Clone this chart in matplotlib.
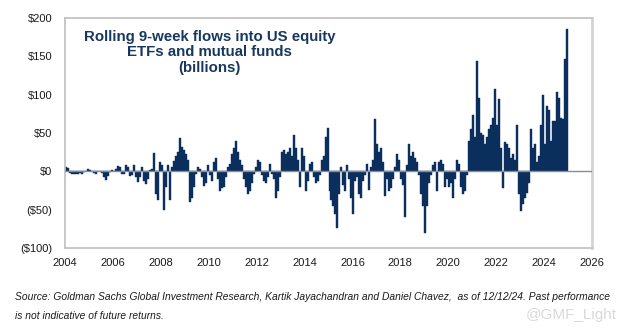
import numpy as np
import matplotlib
matplotlib.use("Agg")
import matplotlib.pyplot as plt
from matplotlib.ticker import FuncFormatter

# Rolling 9-week flows ($bn) (Jan..Dec)
flows_2004 = [5, 4, -2, -3, -3, -4, -3, -2, -3, -1, 1, 3]
flows_2005 = [2, 1, -2, -3, 1, 0, -2, -8, -11, -6, -1, 2]
flows_2006 = [1, 3, 7, 5, -3, -4, 8, 5, -6, -5, 8, -8]
flows_2007 = [-14, -8, 5, -12, -16, -10, 2, 3, 24, -30, -37, 12]
flows_2008 = [8, -51, -20, 8, -38, 6, 13, 20, 25, 44, 32, 28]
flows_2009 = [22, 15, -40, -35, -20, -3, 5, 3, -8, -19, -15, 8]
flows_2010 = [-5, -12, 12, 18, -10, -25, -22, -20, -8, 5, 10, 22]
flows_2011 = [30, 39, 25, 15, 8, -10, -20, -30, -25, -15, -3, 5]
flows_2012 = [15, 12, -5, -12, -15, -8, 10, -3, -10, -35, -25, -8]
flows_2013 = [25, 28, 22, 25, 30, 20, 47, 30, 15, -20, 30, 20]
flows_2014 = [-25, -12, 10, 12, -8, -15, -12, -5, 15, 20, 45, 56]
flows_2015 = [-25, -38, -45, -55, -74, -30, 5, -18, -25, 8, -10, -35]
flows_2016 = [-56, -12, -8, -30, -35, -12, -5, 10, -24, 5, 15, 68]
flows_2017 = [35, 25, 30, 12, -32, -10, -25, -22, -10, 5, 22, 15]
flows_2018 = [-10, -18, -60, 8, 35, 20, 25, 18, 12, -5, -30, -45]
flows_2019 = [-80, -45, -15, -5, 8, 12, -25, 12, 15, 10, -20, -10]
flows_2020 = [-20, -15, -35, -10, 15, 10, -20, -29, -25, -5, 40, 55]
flows_2021 = [74, 45, 144, 95, 50, 48, 35, 45, 55, 60, 70, 108]
flows_2022 = [60, 94, 30, -22, 38, 35, 30, 18, 22, 15, 60, -30]
flows_2023 = [-52, -42, -35, -28, -15, 55, 30, 35, 12, 20, 60, 99]
flows_2024 = [35, 85, 80, 40, 65, 65, 103, 95, 70, 68, 146, 186]

year_ticks = list(range(2004, 2027, 2))
value_ticks = [-100, -50, 0, 50, 100, 150, 200]

all_flows = (flows_2004 + flows_2005 + flows_2006 + flows_2007 + flows_2008
             + flows_2009 + flows_2010 + flows_2011 + flows_2012 + flows_2013
             + flows_2014 + flows_2015 + flows_2016 + flows_2017 + flows_2018
             + flows_2019 + flows_2020 + flows_2021 + flows_2022 + flows_2023
             + flows_2024)
dates = 2004 + np.arange(len(all_flows)) / 12.0

navy = '#0B2F5C'

fig = plt.figure(figsize=(6.26, 3.3), dpi=100)
ax = fig.add_axes([65 / 626, 82 / 330, 527 / 626, 230 / 330])

ax.bar(dates, all_flows, width=1 / 12, align='edge', color=navy,
       edgecolor=navy, linewidth=0.3)
ax.axhline(0, color='#8C8C8C', linewidth=1.0, zorder=3)

ax.set_xlim(2004, 2026)
ax.set_ylim(-100, 200)
ax.set_xticks(year_ticks)
ax.set_yticks(value_ticks)


def money(v, pos):
    if v < 0:
        return '(${:.0f})'.format(-v)
    return '${:.0f}'.format(v)


ax.yaxis.set_major_formatter(FuncFormatter(money))
ax.tick_params(length=0, labelsize=8, colors='#1A1A1A')
ax.tick_params(axis='y', pad=9)
ax.tick_params(axis='x', pad=7)
for lbl in ax.get_xticklabels() + ax.get_yticklabels():
    lbl.set_family('Liberation Sans')

for s in ax.spines.values():
    s.set_color('#BFBFBF')
    s.set_linewidth(1.2)
ax.spines['right'].set_linewidth(2.0)
ax.spines['right'].set_color('#D4D4D4')

ax.text(0.275, 0.85, 'Rolling 9-week flows into US equity\nETFs and mutual funds\n(billions)',
        transform=ax.transAxes, ha='center', va='center', multialignment='center',
        fontsize=10.8, fontweight='bold', color='#17375E', family='Liberation Sans',
        linespacing=1.1)

fig.text(0.024, 0.100,
         'Source: Goldman Sachs Global Investment Research, Kartik Jayachandran and Daniel Chavez,  as of 12/12/24. Past performance',
         fontsize=7.4, style='italic', color='#1A1A1A', family='Liberation Sans', va='center')
fig.text(0.024, 0.042, 'is not indicative of future returns.',
         fontsize=7.4, style='italic', color='#1A1A1A', family='Liberation Sans', va='center')

fig.text(0.985, 0.045, '@GMF_Light', fontsize=11, color='#D9D9D9',
         family='Liberation Sans', ha='right', va='center')

plt.savefig('out.png', dpi=100)
